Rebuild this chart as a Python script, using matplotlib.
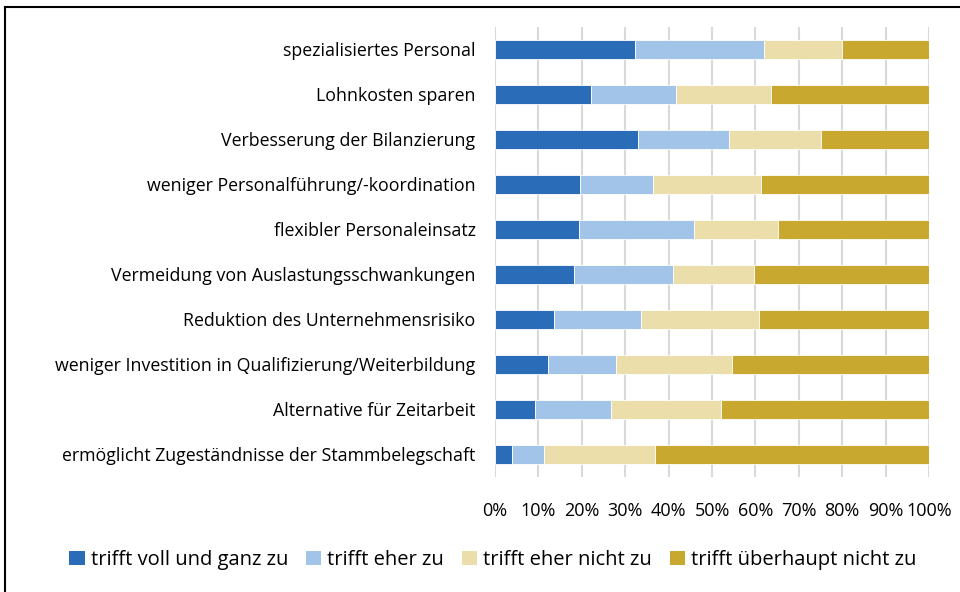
import matplotlib.pyplot as plt
from matplotlib.lines import Line2D
from matplotlib.patches import Patch
import numpy as np

categories = [
    'spezialisiertes Personal',
    'Lohnkosten sparen',
    'Verbesserung der Bilanzierung',
    'weniger Personalführung/-koordination',
    'flexibler Personaleinsatz',
    'Vermeidung von Auslastungsschwankungen',
    'Reduktion des Unternehmensrisiko',
    'weniger Investition in Qualifizierung/Weiterbildung',
    'Alternative für Zeitarbeit',
    'ermöglicht Zugeständnisse der Stammbelegschaft',
]
series_names = ['trifft voll und ganz zu', 'trifft eher zu',
                'trifft eher nicht zu', 'trifft überhaupt nicht zu']
voll = [32.3, 22.2, 33.0, 19.6, 19.4, 18.2, 13.6, 12.2, 9.2, 3.9]
eher = [29.6, 19.6, 20.9, 16.7, 26.5, 22.7, 20.0, 15.7, 17.6, 7.4]
eher_nicht = [18.0, 21.9, 21.2, 25.1, 19.4, 18.7, 27.3, 26.6, 25.2, 25.6]
gar_nicht = [20.1, 36.3, 24.9, 38.6, 34.7, 40.4, 39.1, 45.5, 48.0, 63.1]
xticks = [0, 10, 20, 30, 40, 50, 60, 70, 80, 90, 100]
colors = ['#2B6CB8', '#A3C4E9', '#EBDEAB', '#C8A82F']

plt.rcParams['font.family'] = ['Open Sans', 'DejaVu Sans']

fig = plt.figure(figsize=(9.6, 5.92), dpi=100)
ax = fig.add_axes([495/960, 1-477/592, 434/960, 450/592])

y = np.arange(len(categories))
left = np.zeros(len(categories))
for vals, name, c in zip([voll, eher, eher_nicht, gar_nicht], series_names, colors):
    ax.barh(y, vals, left=left, height=0.41, color=c, edgecolor='white',
            linewidth=0.6, label=name, zorder=3)
    left += np.array(vals)

ax.set_xlim(0, 100)
ax.set_ylim(len(categories) - 0.5, -0.5)
ax.set_yticks(y)
ax.set_yticklabels(categories, fontsize=12.8)
ax.set_xticks(xticks)
ax.set_xticklabels([f'{t}%' for t in xticks], fontsize=13)
ax.tick_params(axis='y', length=0, pad=14)
ax.tick_params(axis='x', length=0, pad=18)
ax.grid(axis='x', color='#D9D9D9', linewidth=1.5, zorder=0)
for s in ax.spines.values():
    s.set_visible(False)

handles = [Patch(facecolor=c, edgecolor='none') for c in colors]
fig.legend(handles, series_names, loc='center', bbox_to_anchor=(493/960, 1-560/592),
           ncol=4, frameon=False, fontsize=14.5, handlelength=0.75, handleheight=0.75,
           handletextpad=0.3, columnspacing=0.9)

# frame of the original chart area
fig.add_artist(Line2D([5/960, 5/960], [1-7/592, 0], color='black', linewidth=1.5))
fig.add_artist(Line2D([5/960, 1], [1-7/592, 1-7/592], color='black', linewidth=1.5))

fig.savefig('out.png', dpi=100)
